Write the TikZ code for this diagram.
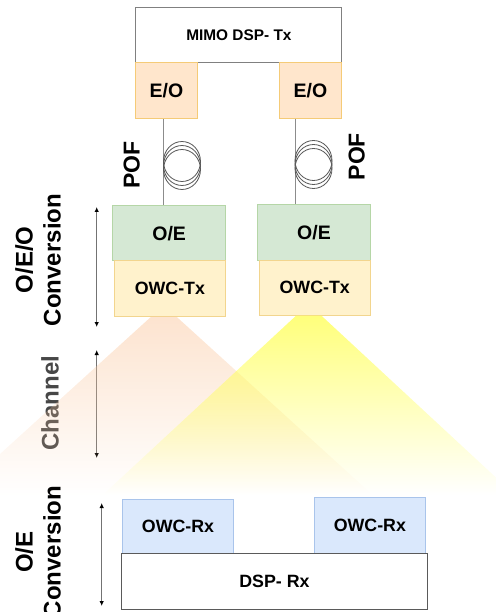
\documentclass[tikz,border=0pt]{standalone}
\usepackage{fontspec}
\setmainfont{Liberation Sans}
\usetikzlibrary{positioning,calc,fadings,arrows.meta}
\pgfdeclarelayer{background}
\pgfsetlayers{background,main}
\definecolor{owceofill}{HTML}{FFE6CC}
\definecolor{owceoline}{HTML}{F5CB77}
\definecolor{owcoefill}{HTML}{D5E8D4}
\definecolor{owcoeline}{HTML}{B5D6A7}
\definecolor{owctxfill}{HTML}{FFF2CC}
\definecolor{owctxline}{HTML}{F2D58E}
\definecolor{owcrxfill}{HTML}{DAE8FC}
\definecolor{owcrxline}{HTML}{A9C4EB}
\definecolor{owcboxline}{HTML}{808080}
\definecolor{owcdspline}{HTML}{5A5A5A}
\definecolor{owcfiber}{HTML}{8C8C8C}
\definecolor{owcbeam1}{RGB}{250,200,160}
\definecolor{owcbeam2}{RGB}{255,255,90}
\tikzfading[name=beamfade, top color=transparent!0, bottom color=transparent!100]
\tikzstyle{blocknode} = [rectangle, draw, line width = 1pt, text = black, inner sep = 0pt, align = center]
\tikzstyle{blockmimo} = [draw = owcboxline, fill = white, font = \fontsize{15.4}{18}\selectfont\bfseries]
\tikzstyle{blockeo} = [draw = owceoline, fill = owceofill, font = \fontsize{19.5}{22}\selectfont\bfseries]
\tikzstyle{blockoe} = [draw = owcoeline, fill = owcoefill, font = \fontsize{19.5}{22}\selectfont\bfseries]
\tikzstyle{blocktx} = [draw = owctxline, fill = owctxfill, font = \fontsize{17.8}{20}\selectfont\bfseries]
\tikzstyle{blockrx} = [draw = owcrxline, fill = owcrxfill, font = \fontsize{17.8}{20}\selectfont\bfseries]
\tikzstyle{blockdsp} = [draw = owcdspline, fill = white, font = \fontsize{17.8}{20}\selectfont\bfseries]
\tikzstyle{fiberline} = [owcfiber, line width = 1pt]
\tikzstyle{coilline} = [black!65, line width = 0.8pt]
\tikzstyle{sidelabel} = [rotate = 90, align = center, font = \fontsize{24}{28}\selectfont\bfseries]
\tikzstyle{dimarrow} = [black!55, line width = 1pt, {Latex[length=5pt, width=4.5pt, color=black]}-{Latex[length=5pt, width=4.5pt, color=black]}]

\begin{document}
\begin{tikzpicture}[x = 1pt, y = -1pt]
\useasboundingbox (0,0) rectangle (495,612);
% transmitter side
\node[blocknode, blockmimo, minimum width = 206pt, minimum height = 55pt] (mimo) at (238.9, 35.0) {MIMO DSP- Tx};
\node[blocknode, blockeo, minimum width = 61.6pt, minimum height = 56pt] (eo1) at (166.5, 90.8) {E/O};
\node[blocknode, blockeo, minimum width = 61.6pt, minimum height = 56pt] (eo2) at (310.5, 90.5) {E/O};
\node[blocknode, blockoe, minimum width = 113pt, minimum height = 55pt] (oe1) at (169.2, 233.2) {O/E};
\node[blocknode, blockoe, minimum width = 112.6pt, minimum height = 55pt] (oe2) at (314.0, 232.5) {O/E};
\node[blocknode, blocktx, minimum width = 111.7pt, minimum height = 55.3pt] (tx1) at (169.9, 288.4) {OWC-Tx};
\node[blocknode, blocktx, minimum width = 111.3pt, minimum height = 55pt] (tx2) at (314.7, 287.5) {OWC-Tx};
% receiver side
\node[blocknode, blockrx, minimum width = 111.4pt, minimum height = 54pt] (rx1) at (178.0, 526.3) {OWC-Rx};
\node[blocknode, blockrx, minimum width = 111.7pt, minimum height = 55.7pt] (rx2) at (369.9, 525.2) {OWC-Rx};
\node[blocknode, blockdsp, minimum width = 306.4pt, minimum height = 56pt] (dsp) at (274.5, 581.0) {DSP- Rx};
% labels
\node[sidelabel, font = \fontsize{23}{26}\selectfont\bfseries] (pof1) at (131.7, 165.0) {POF};
\node[sidelabel, font = \fontsize{23}{26}\selectfont\bfseries] (pof2) at (356.7, 156.7) {POF};
\node[sidelabel] (oeolabel) at (38.0, 260.0) {O/E/O\\Conversion};
\node[sidelabel, text = black!72] (chlabel) at (50.0, 403.0) {Channel};
\node[sidelabel] (oelabel) at (38.0, 552.0) {O/E\\Conversion};
\coordinate (oeotop) at (96.7, 207);
\coordinate (oeobot) at (96.7, 327);
\coordinate (chtop) at (96.7, 350);
\coordinate (chbot) at (96.7, 458);
\coordinate (oetop) at (101.7, 503);
\coordinate (oebot) at (101.7, 606);
\draw[dimarrow] (oeotop) -- (oeobot);
\draw[dimarrow] (chtop) -- (chbot);
\draw[dimarrow] (oetop) -- (oebot);
% fibers
\coordinate (coil1) at (182.0, 165.5);
\coordinate (coil2) at (313.5, 164.5);
\begin{pgfonlayer}{background}
\draw[fiberline] ([xshift = -3.2pt]eo1.south) -- ([xshift = -3.2pt]eo1.south |- oe1.north);
\draw[fiberline] ([xshift = -15.5pt]eo2.south) -- ([xshift = -15.5pt]eo2.south |- oe2.north);
\end{pgfonlayer}
\foreach \dy in {-4, 0, 4} {
  \draw[coilline] ([yshift = -\dy pt]coil1) ellipse [x radius = 18.5pt, y radius = 20pt];
  \draw[coilline] ([yshift = -\dy pt]coil2) ellipse [x radius = 18.5pt, y radius = 20pt];
}
% light beams
\fill[owcbeam1, fill opacity = 0.5, path fading = beamfade] (tx1.south west) ++(37.7, 0) -- ++(25, 0) -- ++(197, 179) -- ++(-419, 0) -- cycle;
\fill[owcbeam2, fill opacity = 0.8, path fading = beamfade] (tx2.south west) ++(37.7, 0) -- ++(25, 0) -- ++(193, 179) -- ++(-411, 0) -- cycle;
\end{tikzpicture}
\end{document}
